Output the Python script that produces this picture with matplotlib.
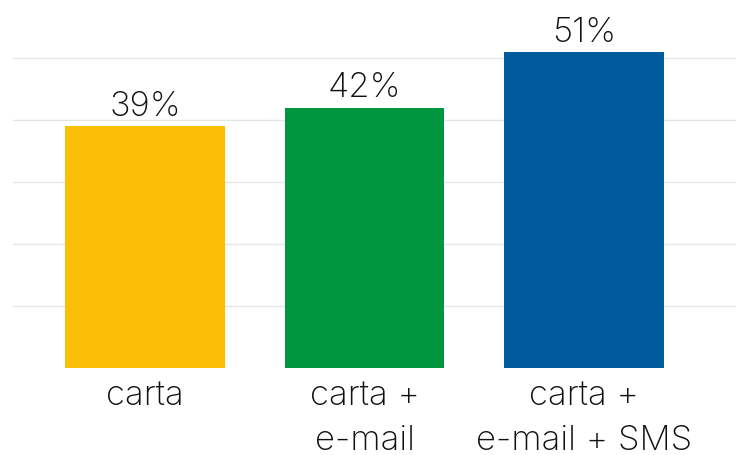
import matplotlib
matplotlib.use("Agg")
import matplotlib.pyplot as plt

categories = ["carta", "carta +\ne-mail", "carta +\ne-mail + SMS"]
values = [39, 42, 51]
labels = ["39%", "42%", "51%"]
colors = ["#FBBF05", "#009640", "#005B9C"]

plt.rcParams['font.family'] = ['Inter', 'DejaVu Sans']
plt.rcParams['font.weight'] = 'light'

fig = plt.figure(figsize=(7.36, 4.56), dpi=100)
ax = fig.add_axes([13/736, 87/456, 723/736, 369/456])

x = list(range(len(categories)))
bars = ax.bar(x, values, width=0.727, color=colors, zorder=2)
for xi, v, lab in zip(x, values, labels):
    ax.annotate(lab, (xi, v), xytext=(0, 3), textcoords='offset points',
                ha='center', va='bottom', fontsize=25, weight='light', color='#111111')

ax.set_xlim(-0.6, 2.69)
ax.set_ylim(0, 59.5)
ax.set_yticks([10, 20, 30, 40, 50])
ax.yaxis.grid(True, color='#e6e6e6', linewidth=1, zorder=0)
ax.set_axisbelow(True)
ax.tick_params(axis='y', left=False, labelleft=False)
ax.set_xticks(x)
ax.set_xticklabels(categories, fontsize=25, weight='light', color='#111111', linespacing=1.5)
ax.tick_params(axis='x', length=0, pad=8)
for s in ax.spines.values():
    s.set_visible(False)

fig.savefig("out.png", dpi=100)
